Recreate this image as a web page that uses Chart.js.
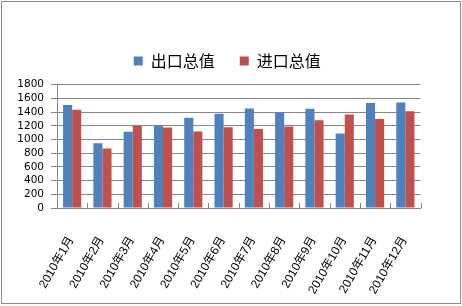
<!DOCTYPE html>
<html>
<head>
<meta charset="utf-8">
<script src="https://cdn.jsdelivr.net/npm/chart.js@4"></script>
<style>
  html, body { margin: 0; padding: 0; background: #fff; }
  #wrap { width: 462px; height: 306px; }
</style>
</head>
<body>
<div id="wrap"><canvas id="c" width="462" height="306"></canvas></div>
<script>
// 2010 monthly foreign trade totals
const months = ['2010年1月', '2010年2月', '2010年3月', '2010年4月', '2010年5月', '2010年6月',
                '2010年7月', '2010年8月', '2010年9月', '2010年10月', '2010年11月', '2010年12月'];
const exportTotal = [1504, 945, 1112, 1200, 1316, 1375, 1453, 1393, 1448, 1087, 1534, 1541];
const importTotal = [1436, 868, 1196, 1177, 1116, 1178, 1152, 1188, 1282, 1365, 1300, 1413];
const seriesNames = ['出口总值', '进口总值'];
const yMax = 1800;
const yStep = 200;

const GRID = '#878787';

// white page with a thin grey frame
const framePlugin = {
  id: 'frame',
  beforeDraw(chart) {
    const ctx = chart.ctx;
    ctx.save();
    ctx.fillStyle = '#fff';
    ctx.fillRect(0, 0, chart.width, chart.height);
    ctx.strokeStyle = '#8a8a8a';
    ctx.lineWidth = 1;
    ctx.strokeRect(1.5, 1.5, chart.width - 3, chart.height - 4);
    ctx.restore();
  }
};

// short inward tick marks between categories on the category axis
const innerTicks = {
  id: 'innerTicks',
  afterDatasetsDraw(chart) {
    const xs = chart.scales.x;
    const ctx = chart.ctx;
    const y = chart.chartArea.bottom;
    ctx.save();
    ctx.strokeStyle = GRID;
    ctx.lineWidth = 1;
    ctx.beginPath();
    for (let i = 0; i <= months.length; i++) {
      const x = Math.round(xs.getPixelForValue(i - 0.5)) + 0.5;
      ctx.moveTo(x, y);
      ctx.lineTo(x, y - 5);
    }
    ctx.stroke();
    ctx.restore();
  }
};

// empty spacer axis: only reserves room beside the plot
const spacer = (position, size) => ({
  type: 'category',
  position,
  display: true,
  grid: { display: false },
  border: { display: false },
  ticks: { display: false },
  afterFit(scale) {
    if (scale.isHorizontal()) scale.height = size; else scale.width = size;
  }
});

new Chart(document.getElementById('c'), {
  type: 'bar',
  data: {
    labels: months,
    datasets: [
      { label: seriesNames[0], data: exportTotal, backgroundColor: '#4F81BD' },
      { label: seriesNames[1], data: importTotal, backgroundColor: '#C0504D' }
    ]
  },
  options: {
    responsive: false,
    animation: false,
    devicePixelRatio: 1,
    categoryPercentage: 0.6,
    barPercentage: 1.0,
    layout: { padding: { left: 17, right: 24.5, top: 28, bottom: 0 } },
    plugins: {
      tooltip: { enabled: false },
      legend: {
        position: 'top',
        labels: {
          boxWidth: 9,
          boxHeight: 9,
          padding: 25,
          color: '#000',
          font: { family: '"Noto Sans CJK SC", sans-serif', size: 16 }
        }
      }
    },
    scales: {
      x: {
        offset: true,
        grid: { display: false },
        border: { display: true, color: GRID, width: 1 },
        afterFit(scale) { scale.height = 98; },
        ticks: {
          autoSkip: false,
          minRotation: 60,
          maxRotation: 60,
          padding: 18,
          labelOffset: -1,
          color: '#000',
          font: { family: '"Liberation Sans", "Noto Sans CJK SC", sans-serif', size: 12 }
        }
      },
      y: {
        min: 0,
        max: yMax,
        afterFit(scale) { scale.width = 40; },
        grid: { color: GRID, tickLength: 6, tickColor: GRID },
        border: { display: true, color: GRID, width: 1 },
        ticks: {
          stepSize: yStep,
          autoSkip: false,
          padding: 7,
          color: '#000',
          callback: v => String(v),
          font: { family: '"DejaVu Sans", sans-serif', size: 10.5 }
        }
      },
      gapTop: spacer('top', 5.7),
      gapRight: spacer('right', 17)
    }
  },
  plugins: [framePlugin, innerTicks]
});
</script>
</body>
</html>
